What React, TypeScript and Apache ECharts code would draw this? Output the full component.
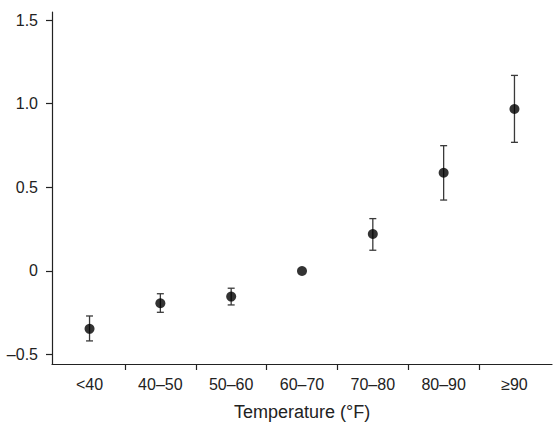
import React, { useEffect, useRef } from "react";
import * as echarts from "echarts";

const categories = ["<40", "40–50", "50–60", "60–70", "70–80", "80–90", "≥90"];
const means = [-0.346, -0.193, -0.153, 0, 0.221, 0.587, 0.968];
const lowerCI: (number | null)[] = [-0.418, -0.247, -0.203, null, 0.124, 0.424, 0.769];
const upperCI: (number | null)[] = [-0.269, -0.136, -0.103, null, 0.313, 0.749, 1.169];
const yTickValues = [-0.5, 0, 0.5, 1.0, 1.5];
const yTickLabels = ["–0.5", "0", "0.5", "1.0", "1.5"];
const xLabelPositions = categories.map((_, i) => i);
const xTickPositions = categories.slice(1).map((_, i) => i + 0.5);

const TEXT = "#222";
const FONT = "'Liberation Sans', Arial, Helvetica, sans-serif";

export default function App() {
  const ref = useRef<HTMLDivElement>(null);
  useEffect(() => {
    if (!ref.current) return;
    const chart = echarts.init(ref.current, undefined, { renderer: "svg" });
    const errData = categories
      .map((_, i) => [i, lowerCI[i], upperCI[i]])
      .filter((d) => d[1] != null && d[2] != null);
    chart.setOption({
      animation: false,
      backgroundColor: "#fff",
      grid: { left: 52, right: 4, top: 12, bottom: 64 },
      xAxis: {
        type: "value",
        min: -0.53,
        max: 6.53,
        name: "Temperature (°F)",
        nameLocation: "middle",
        nameGap: 39,
        nameTextStyle: { color: TEXT, fontSize: 18, fontFamily: FONT },
        axisLine: { show: true, onZero: false, lineStyle: { color: TEXT, width: 1.2 } },
        axisTick: {
          show: true,
          customValues: xTickPositions,
          length: 6,
          lineStyle: { color: TEXT, width: 1.2 },
        },
        axisLabel: {
          customValues: xLabelPositions,
          margin: 12,
          color: TEXT,
          fontSize: 16,
          fontFamily: FONT,
          formatter: (v: number) => categories[Math.round(v)] ?? "",
        },
        splitLine: { show: false },
      },
      yAxis: {
        type: "value",
        min: -0.556,
        max: 1.548,
        axisLine: { show: true, onZero: false, lineStyle: { color: TEXT, width: 1.2 } },
        axisTick: {
          show: true,
          customValues: yTickValues,
          length: 6,
          lineStyle: { color: TEXT, width: 1.2 },
        },
        axisLabel: {
          customValues: yTickValues,
          margin: 14,
          color: TEXT,
          fontSize: 16,
          fontFamily: FONT,
          formatter: (v: number) => {
            const idx = yTickValues.findIndex((t) => Math.abs(t - v) < 1e-6);
            return idx >= 0 ? yTickLabels[idx] : "";
          },
        },
        splitLine: { show: false },
      },
      series: [
        {
          type: "custom",
          z: 2,
          data: errData,
          renderItem: (params: any, api: any) => {
            const x = api.value(0);
            const lo = api.value(1);
            const hi = api.value(2);
            const pLo = api.coord([x, lo]);
            const pHi = api.coord([x, hi]);
            const hw = 3.5;
            const style = { stroke: "#3a3a3a", lineWidth: 1.3 };
            return {
              type: "group",
              children: [
                { type: "line", shape: { x1: pLo[0], y1: pLo[1], x2: pHi[0], y2: pHi[1] }, style },
                { type: "line", shape: { x1: pLo[0] - hw, y1: pLo[1], x2: pLo[0] + hw, y2: pLo[1] }, style },
                { type: "line", shape: { x1: pHi[0] - hw, y1: pHi[1], x2: pHi[0] + hw, y2: pHi[1] }, style },
              ],
            };
          },
        },
        {
          type: "scatter",
          z: 3,
          symbol: "circle",
          symbolSize: 10,
          itemStyle: { color: "#000" },
          data: means.map((m, i) => [i, m]),
        },
      ],
    });
    return () => chart.dispose();
  }, []);
  return (
    <div
      ref={ref}
      style={{ position: "fixed", left: 0, top: 0, width: 556, height: 428 }}
    />
  );
}
